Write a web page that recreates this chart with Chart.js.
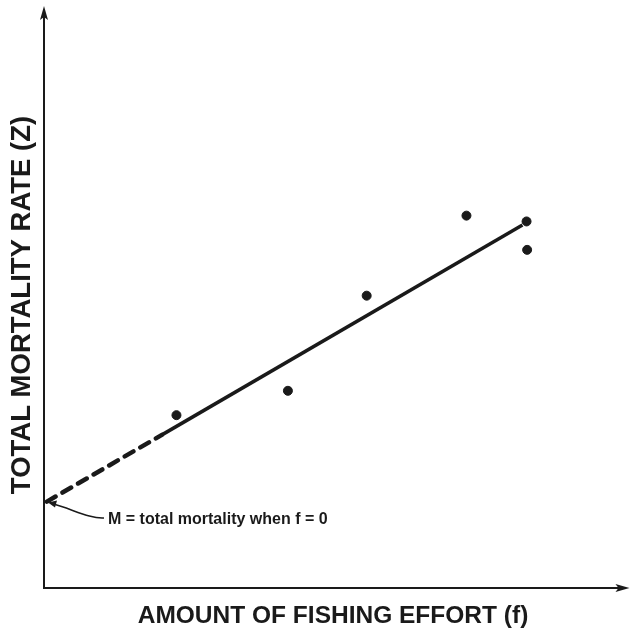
<!DOCTYPE html>
<html>
<head>
<meta charset="utf-8">
<script src="https://cdn.jsdelivr.net/npm/chart.js@4/dist/chart.umd.min.js"></script>
<style>
  html, body { margin: 0; padding: 0; background: #fff; }
  #wrap { width: 633px; height: 632px; position: relative; }
</style>
</head>
<body>
<div id="wrap"><canvas id="grafico"></canvas></div>
<script>
// observed points (effort, Z)
const esfuerzo = [22.7, 41.8, 55.3, 72.4, 82.7, 82.8];
const mortalidad = [29.8, 34.0, 50.4, 64.2, 63.2, 58.3];

// fitted line: solid part over the data, dashed back to f = 0
const lineaX = [20.2, 82.0];
const lineaY = [26.4, 62.6];
const extrapX = [0.5, 20.2];
const extrapY = [14.9, 26.4];

const tituloX = 'AMOUNT OF FISHING EFFORT (f)';
const tituloY = 'TOTAL MORTALITY RATE (Z)';
const nota = 'M = total mortality when f = 0';

const pares = (xs, ys) => xs.map((x, i) => ({ x: x, y: ys[i] }));

const tinta = '#1a1a1a';

// axes with arrowheads, titles and the note for M
const dibujoEjes = {
    id: 'dibujoEjes',
    afterDraw(chart) {
        const { ctx, chartArea: a } = chart;
        ctx.save();
        ctx.strokeStyle = tinta;
        ctx.fillStyle = tinta;
        ctx.lineWidth = 2;

        ctx.beginPath();
        ctx.moveTo(a.left, a.top + 4);
        ctx.lineTo(a.left, a.bottom);
        ctx.lineTo(a.right - 4, a.bottom);
        ctx.stroke();

        // arrow up
        ctx.beginPath();
        ctx.moveTo(a.left, a.top - 2);
        ctx.lineTo(a.left - 4, a.top + 12);
        ctx.lineTo(a.left, a.top + 9);
        ctx.lineTo(a.left + 4, a.top + 12);
        ctx.closePath();
        ctx.fill();

        // arrow right
        ctx.beginPath();
        ctx.moveTo(a.right + 2, a.bottom);
        ctx.lineTo(a.right - 12, a.bottom - 4);
        ctx.lineTo(a.right - 9, a.bottom);
        ctx.lineTo(a.right - 12, a.bottom + 4);
        ctx.closePath();
        ctx.fill();

        // titles
        ctx.font = 'bold 24.5px "Liberation Sans", Arial, sans-serif';
        ctx.textAlign = 'center';
        ctx.textBaseline = 'middle';
        ctx.fillText(tituloX, 333, 616);

        ctx.save();
        ctx.translate(22, 305);
        ctx.rotate(-Math.PI / 2);
        ctx.font = 'bold 27.5px "Liberation Sans", Arial, sans-serif';
        ctx.fillText(tituloY, 0, 0);
        ctx.restore();

        // note for the intercept
        const x0 = chart.scales.x.getPixelForValue(0);
        const y0 = chart.scales.y.getPixelForValue(extrapY[0]);
        ctx.lineWidth = 1.5;
        ctx.beginPath();
        ctx.moveTo(104, 518);
        ctx.bezierCurveTo(90, 519, 72, 509, x0 + 8, y0 + 2);
        ctx.stroke();
        ctx.beginPath();
        ctx.moveTo(x0 + 4, y0 + 1);
        ctx.lineTo(x0 + 13, y0 - 1);
        ctx.lineTo(x0 + 11, y0 + 6);
        ctx.closePath();
        ctx.fill();

        ctx.font = 'bold 16px "Liberation Sans", Arial, sans-serif';
        ctx.textAlign = 'left';
        ctx.fillText(nota, 108, 520);
        ctx.restore();
    }
};

const ctx = document.getElementById('grafico').getContext('2d');

const miGrafico = new Chart(ctx, {
    type: 'scatter',
    data: {
        datasets: [
            {
                label: 'observed',
                data: pares(esfuerzo, mortalidad),
                backgroundColor: tinta,
                borderColor: tinta,
                pointRadius: 4.5,
                showLine: false
            },
            {
                label: 'fit',
                data: pares(lineaX, lineaY),
                borderColor: tinta,
                borderWidth: 3.5,
                pointRadius: 0,
                showLine: true
            },
            {
                label: 'extrapolated',
                data: pares(extrapX, extrapY),
                borderColor: tinta,
                borderWidth: 4.5,
                borderDash: [10, 8],
                borderCapStyle: 'round',
                pointRadius: 0,
                showLine: true
            }
        ]
    },
    options: {
        responsive: true,
        maintainAspectRatio: false,
        animation: false,
        layout: { padding: { left: 44, top: 8, right: 5, bottom: 44 } },
        plugins: {
            legend: { display: false },
            tooltip: { enabled: false }
        },
        scales: {
            x: { type: 'linear', min: 0, max: 100, display: false },
            y: { type: 'linear', min: 0, max: 100, display: false }
        }
    },
    plugins: [dibujoEjes]
});
</script>
</body>
</html>
